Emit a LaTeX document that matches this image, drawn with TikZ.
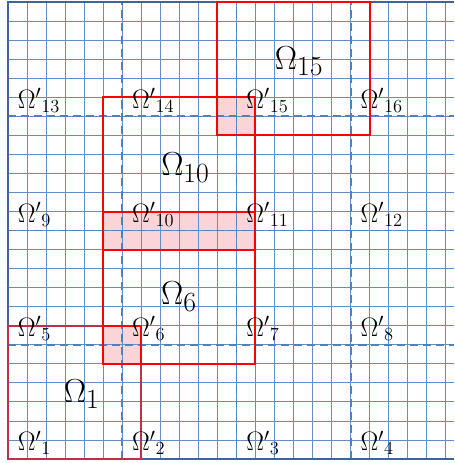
\documentclass[tikz,border=0pt]{standalone}
\usepackage{tikz}
\definecolor{gridblue}{RGB}{79,129,189}
\definecolor{borderblue}{RGB}{62,100,156}
\definecolor{overlappink}{RGB}{250,212,214}
\definecolor{darkred}{RGB}{190,48,72}

\begin{document}
\begin{tikzpicture}[x=0.5cm, y=0.5cm,
        every node/.style={inner sep=0pt},
        fine/.style={gridblue!90, line width=0.6pt},
        coarse/.style={gridblue, line width=1.4pt, dash pattern=on 6pt off 3.7pt},
        frame/.style={borderblue, line width=1.6pt},
        subdom/.style={red, line width=1.5pt},
        overlap/.style={fill=overlappink, draw=none},
        local/.style={font=\LARGE, scale=1.15, anchor=west},
        global/.style={font=\Huge}
    ]
%
    \useasboundingbox (-0.42,-0.21) rectangle (23.45,24.11);
    \clip (-0.42,-0.21) rectangle (23.45,24.11);
%
    % Overlap regions
    \fill[overlap] (5,5) rectangle (7,7);
    \fill[overlap] (5,11) rectangle (13,13);
    \fill[overlap] (11,17) rectangle (13,19);
%
    % Fine mesh
    \draw[fine, step=0.5cm] (0,0) grid (23.45,24);
%
    % Coarse partition
    \draw[coarse] (6,0) -- (6,24);
    \draw[coarse] (12,0) -- (12,24);
    \draw[coarse] (18,0) -- (18,24);
    \draw[coarse] (0,6) -- (23.45,6);
    \draw[coarse] (0,12) -- (23.45,12);
    \draw[coarse] (0,18) -- (23.45,18);
%
    % Outer border
    \draw[frame] (23.45,24) -- (0,24) -- (0,0) -- (23.45,0);
%
    % Overlapping subdomains
    \draw[subdom, darkred] (0,0) rectangle (7,7);
    \draw[subdom] (5,5) rectangle (13,13);
    \draw[subdom] (5,11) rectangle (13,19);
    \draw[subdom] (11,17) rectangle (19,24);
    \draw[subdom] (5,5) rectangle (7,7);
%
    % Non-overlapping parts
    \node[local] (p1) at (0.5,0.85) {${\Omega'}_{1}$};
    \node[local] (p2) at (6.5,0.85) {${\Omega'}_{2}$};
    \node[local] (p3) at (12.5,0.85) {${\Omega'}_{3}$};
    \node[local] (p4) at (18.5,0.85) {${\Omega'}_{4}$};
    \node[local] (p5) at (0.5,6.85) {${\Omega'}_{5}$};
    \node[local] (p6) at (6.5,6.85) {${\Omega'}_{6}$};
    \node[local] (p7) at (12.5,6.85) {${\Omega'}_{7}$};
    \node[local] (p8) at (18.5,6.85) {${\Omega'}_{8}$};
    \node[local] (p9) at (0.5,12.85) {${\Omega'}_{9}$};
    \node[local] (p10) at (6.5,12.85) {${\Omega'}_{10}$};
    \node[local] (p11) at (12.5,12.85) {${\Omega'}_{11}$};
    \node[local] (p12) at (18.5,12.85) {${\Omega'}_{12}$};
    \node[local] (p13) at (0.5,18.85) {${\Omega'}_{13}$};
    \node[local] (p14) at (6.5,18.85) {${\Omega'}_{14}$};
    \node[local] (p15) at (12.5,18.85) {${\Omega'}_{15}$};
    \node[local] (p16) at (18.5,18.85) {${\Omega'}_{16}$};
%
    \node[global] (om1) at (3.87,3.41) {$\Omega_{1}$};
    \node[global] (om6) at (8.98,8.53) {$\Omega_{6}$};
    \node[global] (om10) at (9.32,15.31) {$\Omega_{10}$};
    \node[global] (om15) at (15.29,20.9) {$\Omega_{15}$};
%
\end{tikzpicture}
\end{document}
